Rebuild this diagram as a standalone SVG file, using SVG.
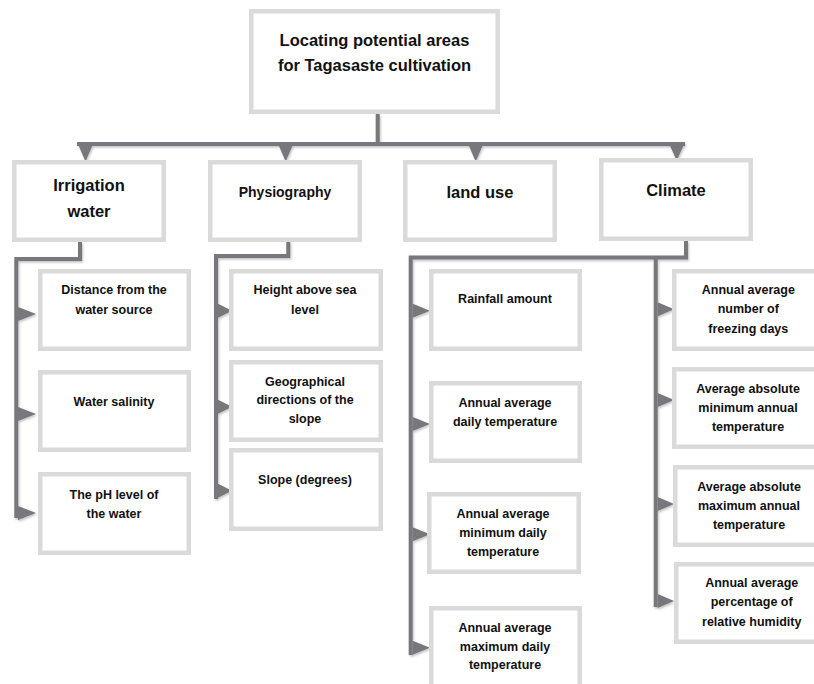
<svg xmlns="http://www.w3.org/2000/svg" width="814" height="684" viewBox="0 0 814 684">
<defs>
<style>
.box{fill:#ffffff;stroke:#dadada;stroke-width:4.5}
.t{font-family:"Liberation Sans",Arial,sans-serif;font-weight:bold;fill:#111111;text-anchor:middle}
.title{font-size:16.5px}
.h{font-size:16.5px}
.h2{font-size:14px}
.s{font-size:12.5px}
.ln{fill:none;stroke:#77777b;stroke-width:4;stroke-linejoin:miter}
.ar{fill:#77777b}
</style>
<filter id="sh" x="-10%" y="-10%" width="130%" height="130%">
<feDropShadow dx="1" dy="1.5" stdDeviation="1" flood-color="#000000" flood-opacity="0.25"/>
</filter>
</defs>
<rect width="814" height="684" fill="#ffffff"/>

<g id="connectors" filter="url(#sh)">
<path class="ln" d="M377.7 114 V144 M77 144 H685"/>
<polygon class="ar" points="77.5,143 93.5,143 85.5,161.5"/>
<polygon class="ar" points="277.7,143 293.7,143 285.7,161.5"/>
<polygon class="ar" points="467.7,143 483.7,143 475.7,161.5"/>
<polygon class="ar" points="668.7,143 684.7,143 676.7,160.5"/>

<path class="ln" d="M80 242 V259 H16.3 V518"/>
<polygon class="ar" points="18,307 18,321 36,314"/>
<polygon class="ar" points="18,407 18,421 36,414"/>
<polygon class="ar" points="18,506 18,520 36,513"/>

<path class="ln" d="M288.3 242 V256 H216 V499"/>
<polygon class="ar" points="218,303.7 218,317.7 232,310.7"/>
<polygon class="ar" points="218,399.7 218,413.7 232,406.7"/>
<polygon class="ar" points="218,483.7 218,497.7 232,490.7"/>

<path class="ln" d="M686 241 V257.5 H410.7 V655 M655.7 257.5 V607"/>
<polygon class="ar" points="412.7,303.7 412.7,317.7 430,310.7"/>
<polygon class="ar" points="412.7,417 412.7,431 430,424"/>
<polygon class="ar" points="412.7,527.3 412.7,541.3 430,534.3"/>
<polygon class="ar" points="412.7,640.7 412.7,654.7 430,647.7"/>

<polygon class="ar" points="657.7,302.3 657.7,316.3 674,309.3"/>
<polygon class="ar" points="657.7,393 657.7,407 674,400"/>
<polygon class="ar" points="657.7,497 657.7,511 674,504"/>
<polygon class="ar" points="657.7,594 657.7,608 674,601"/>
</g>

<g id="root">
<rect class="box" x="251.25" y="11.25" width="246.5" height="100.5"/>
<text class="t title" x="374.5" y="45.5">Locating potential areas</text>
<text class="t title" x="374.5" y="70.5">for Tagasaste cultivation</text>
</g>

<g id="irrigation">
<rect class="box" x="14.25" y="162.25" width="149.5" height="77.5"/>
<text class="t h" x="89" y="191">Irrigation</text>
<text class="t h" x="89" y="216.5">water</text>
</g>
<g id="physiography">
<rect class="box" x="210.25" y="162.25" width="149.5" height="77.5"/>
<text class="t h2" x="285" y="196.5">Physiography</text>
</g>
<g id="landuse">
<rect class="box" x="405.25" y="162.25" width="149.5" height="77.5"/>
<text class="t h" x="480" y="197.5">land use</text>
</g>
<g id="climate">
<rect class="box" x="601.25" y="160.25" width="149.5" height="78.5"/>
<text class="t h" x="676" y="195.5">Climate</text>
</g>

<g id="irr1">
<rect class="box" x="40.25" y="271.25" width="148.5" height="77.5"/>
<text class="t s" x="114" y="294">Distance from the</text>
<text class="t s" x="114" y="314">water source</text>
</g>
<g id="irr2">
<rect class="box" x="40.25" y="372.25" width="148.5" height="77.5"/>
<text class="t s" x="114" y="405.7">Water salinity</text>
</g>
<g id="irr3">
<rect class="box" x="40.25" y="474.25" width="148.5" height="78.5"/>
<text class="t s" x="114" y="499.3">The pH level of</text>
<text class="t s" x="114" y="517.7">the water</text>
</g>

<g id="phy1">
<rect class="box" x="231.25" y="271.25" width="149.5" height="77.5"/>
<text class="t s" x="305" y="294">Height above sea</text>
<text class="t s" x="305" y="314">level</text>
</g>
<g id="phy2">
<rect class="box" x="231.25" y="362.25" width="149.5" height="77.5"/>
<text class="t s" x="305" y="385.7">Geographical</text>
<text class="t s" x="305" y="404.3">directions of the</text>
<text class="t s" x="305" y="423.3">slope</text>
</g>
<g id="phy3">
<rect class="box" x="231.25" y="450.25" width="149.5" height="78.5"/>
<text class="t s" x="305" y="484">Slope (degrees)</text>
</g>

<g id="lu1">
<rect class="box" x="431.25" y="271.25" width="148.5" height="77.5"/>
<text class="t s" x="505" y="303">Rainfall amount</text>
</g>
<g id="lu2">
<rect class="box" x="431.25" y="383.25" width="148.5" height="77.5"/>
<text class="t s" x="505" y="406.7">Annual average</text>
<text class="t s" x="505" y="425.7">daily temperature</text>
</g>
<g id="lu3">
<rect class="box" x="429.25" y="494.25" width="149.5" height="77.5"/>
<text class="t s" x="503" y="518">Annual average</text>
<text class="t s" x="503" y="537">minimum daily</text>
<text class="t s" x="503" y="556">temperature</text>
</g>
<g id="lu4">
<rect class="box" x="431.25" y="608.25" width="148.5" height="78.5"/>
<text class="t s" x="505" y="631.7">Annual average</text>
<text class="t s" x="505" y="650.7">maximum daily</text>
<text class="t s" x="505" y="669.3">temperature</text>
</g>

<g id="cl1">
<rect class="box" x="674.25" y="271.25" width="150" height="77.5"/>
<text class="t s" x="748.3" y="294">Annual average</text>
<text class="t s" x="748.3" y="313.3">number of</text>
<text class="t s" x="748.3" y="332.7">freezing days</text>
</g>
<g id="cl2">
<rect class="box" x="674.25" y="369.25" width="150" height="77.5"/>
<text class="t s" x="748" y="392.7">Average absolute</text>
<text class="t s" x="748" y="412.3">minimum annual</text>
<text class="t s" x="748" y="431">temperature</text>
</g>
<g id="cl3">
<rect class="box" x="675.25" y="467.25" width="150" height="77.5"/>
<text class="t s" x="749" y="490.7">Average absolute</text>
<text class="t s" x="749" y="510">maximum annual</text>
<text class="t s" x="749" y="529">temperature</text>
</g>
<g id="cl4">
<rect class="box" x="676.25" y="564.25" width="150" height="77.5"/>
<text class="t s" x="751.7" y="587.3">Annual average</text>
<text class="t s" x="751.7" y="606">percentage of</text>
<text class="t s" x="751.7" y="625.7">relative humidity</text>
</g>
</svg>
